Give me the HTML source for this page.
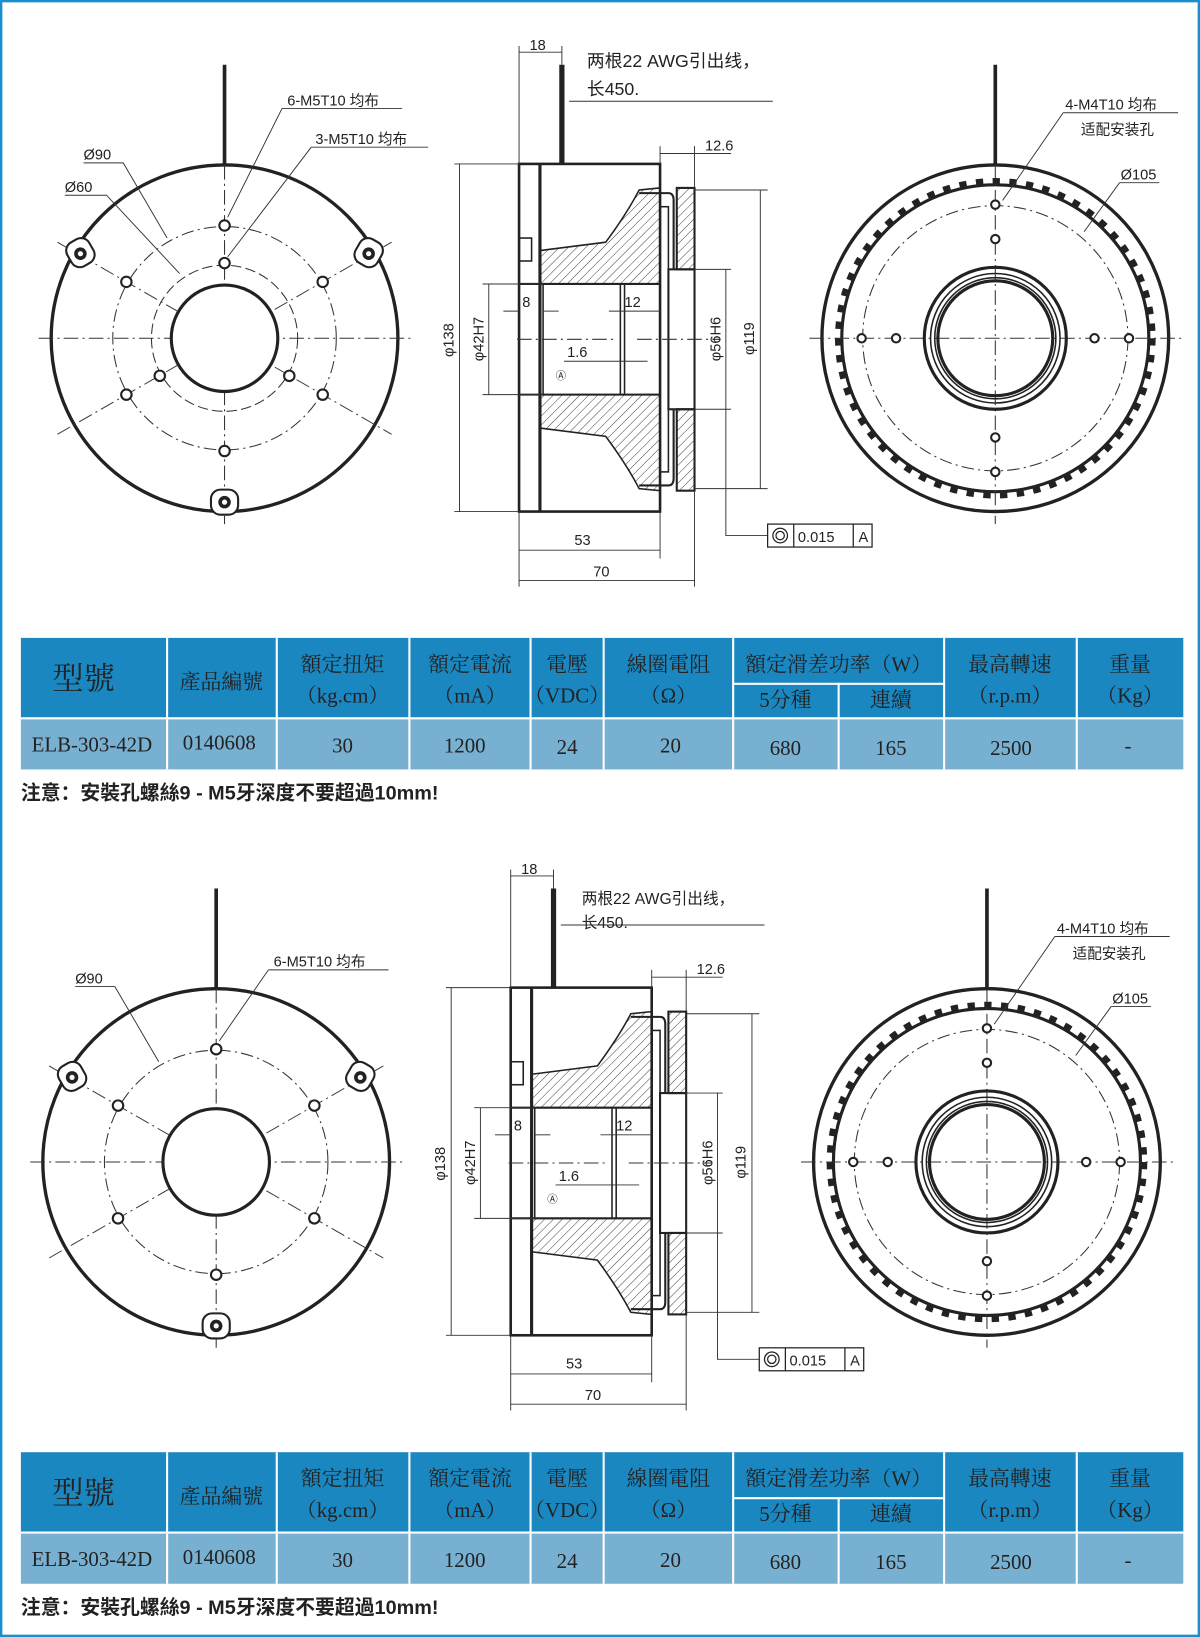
<!DOCTYPE html>
<html><head><meta charset="utf-8"><style>
html,body{margin:0;padding:0;background:#fff}
svg{display:block}
text{font-family:"Liberation Sans","Noto Sans CJK SC",sans-serif;fill:#222}
.s{font-family:"Liberation Serif","Noto Serif CJK SC",serif}
</style></head><body>
<svg width="1200" height="1637" viewBox="0 0 1149 1568" preserveAspectRatio="none" xmlns="http://www.w3.org/2000/svg">
<defs>
<pattern id="h" width="6" height="6" patternUnits="userSpaceOnUse" patternTransform="rotate(45)"><line x1="0" y1="0" x2="0" y2="6" stroke="#333" stroke-width="0.9"/></pattern>
<g id="front">
  <circle cx="0" cy="0" r="166" fill="none" stroke="#222" stroke-width="3.2"/>
  <circle cx="0" cy="0" r="107" fill="none" stroke="#333" stroke-width="1" stroke-dasharray="12,4,2,4"/>
  <line x1="-178" y1="0" x2="178" y2="0" stroke="#333" stroke-width="1" stroke-dasharray="14,4,2,4"/>
  <line x1="0" y1="-166" x2="0" y2="178" stroke="#333" stroke-width="1" stroke-dasharray="14,4,2,4"/>
  <line x1="-160" y1="-92" x2="160" y2="92" stroke="#333" stroke-width="0.9" stroke-dasharray="14,4,2,4"/>
  <line x1="-160" y1="92" x2="160" y2="-92" stroke="#333" stroke-width="0.9" stroke-dasharray="14,4,2,4"/>
  <circle cx="0" cy="0" r="51" fill="#fff" stroke="#222" stroke-width="3"/>
  <g fill="#fff" stroke="#222" stroke-width="2">
   <circle cx="0" cy="-108" r="5"/><circle cx="0" cy="108" r="5"/>
   <circle cx="-94" cy="-54" r="5"/><circle cx="94" cy="-54" r="5"/>
   <circle cx="-94" cy="54" r="5"/><circle cx="94" cy="54" r="5"/>
  </g>
  <g stroke="#222" stroke-width="2" fill="#fff">
   <rect x="-13" y="145" width="26" height="24" rx="9"/>
   <rect x="-150" y="-95" width="24" height="26" rx="9" transform="rotate(-30 -138 -82)"/>
   <rect x="126" y="-95" width="24" height="26" rx="9" transform="rotate(30 138 -82)"/>
  </g>
  <g fill="#222"><circle cx="0" cy="157" r="6"/><circle cx="-138" cy="-81" r="6"/><circle cx="138" cy="-81" r="6"/></g>
  <g fill="#fff"><circle cx="0" cy="157" r="2.5"/><circle cx="-138" cy="-81" r="2.5"/><circle cx="138" cy="-81" r="2.5"/></g>
  <line x1="0" y1="-166" x2="0" y2="-262" stroke="#222" stroke-width="3.5"/>
</g>
<g id="rear">
  <circle cx="0" cy="0" r="166" fill="none" stroke="#222" stroke-width="3.2"/>
  <circle cx="0" cy="0" r="147" fill="none" stroke="#222" stroke-width="3"/>
  <circle cx="0" cy="0" r="127" fill="none" stroke="#333" stroke-width="1" stroke-dasharray="12,4,2,4"/>
  <circle cx="0" cy="0" r="150" fill="none" stroke="#222" stroke-width="7" stroke-dasharray="7,9"/>
  <line x1="-178" y1="0" x2="178" y2="0" stroke="#333" stroke-width="1" stroke-dasharray="14,4,2,4"/>
  <line x1="0" y1="-166" x2="0" y2="178" stroke="#333" stroke-width="1" stroke-dasharray="14,4,2,4"/>
  <circle cx="0" cy="0" r="68" fill="none" stroke="#222" stroke-width="3"/>
  <circle cx="0" cy="0" r="62" fill="none" stroke="#222" stroke-width="1.5"/>
  <circle cx="0" cy="0" r="58" fill="none" stroke="#222" stroke-width="1.5"/>
  <circle cx="0" cy="0" r="55" fill="none" stroke="#222" stroke-width="3"/>
  <g fill="#fff" stroke="#222" stroke-width="2">
   <circle cx="0" cy="-128" r="4"/><circle cx="0" cy="-95" r="4"/>
   <circle cx="0" cy="128" r="4"/><circle cx="0" cy="95" r="4"/>
   <circle cx="-128" cy="0" r="4"/><circle cx="-95" cy="0" r="4"/>
   <circle cx="128" cy="0" r="4"/><circle cx="95" cy="0" r="4"/>
  </g>
  <line x1="0" y1="-166" x2="0" y2="-262" stroke="#222" stroke-width="3.5"/>
</g>
<g id="side">
  <path d="M517,240 L580,232 Q600,205 612,182 L632,180 L632,272 L517,272 Z" fill="url(#h)" stroke="#222" stroke-width="1.5"/>
  <path d="M517,410 L580,418 Q600,445 612,468 L632,470 L632,378 L517,378 Z" fill="url(#h)" stroke="#222" stroke-width="1.5"/>
  <rect x="497" y="157" width="135" height="333" fill="none" stroke="#222" stroke-width="2.5"/>
  <line x1="517" y1="157" x2="517" y2="490" stroke="#222" stroke-width="3"/>
  <line x1="497" y1="272" x2="632" y2="272" stroke="#222" stroke-width="2"/>
  <line x1="497" y1="378" x2="632" y2="378" stroke="#222" stroke-width="2"/>
  <line x1="520" y1="272" x2="520" y2="378" stroke="#222" stroke-width="1.5"/>
  <line x1="594" y1="272" x2="594" y2="378" stroke="#222" stroke-width="1.5"/>
  <line x1="598" y1="272" x2="598" y2="378" stroke="#222" stroke-width="1.5"/>
  <rect x="497" y="228" width="12" height="22" fill="none" stroke="#222" stroke-width="1.5"/>
  <line x1="538" y1="62" x2="538" y2="157" stroke="#222" stroke-width="5"/>
  <path d="M612,185 L640,185 Q645,185 645,192 L645,258" fill="none" stroke="#222" stroke-width="2"/>
  <path d="M612,465 L640,465 Q645,465 645,458 L645,392" fill="none" stroke="#222" stroke-width="2"/>
  <rect x="632" y="198" width="8" height="254" fill="none" stroke="#222" stroke-width="1.5"/>
  <rect x="648" y="180" width="17" height="78" fill="url(#h)" stroke="#222" stroke-width="2"/>
  <rect x="648" y="392" width="17" height="78" fill="url(#h)" stroke="#222" stroke-width="2"/>
  <rect x="640" y="258" width="25" height="134" fill="none" stroke="#222" stroke-width="2"/>
  <line x1="610" y1="325" x2="690" y2="325" stroke="#333" stroke-width="1" stroke-dasharray="14,4,2,4"/>
  <line x1="495" y1="325" x2="590" y2="325" stroke="#333" stroke-width="1" stroke-dasharray="14,4,2,4"/>
  <g stroke="#333" stroke-width="0.9" fill="none">
   <line x1="440" y1="157" x2="440" y2="490"/><line x1="435" y1="157" x2="497" y2="157"/><line x1="435" y1="490" x2="497" y2="490"/>
   <line x1="468" y1="272" x2="468" y2="378"/><line x1="462" y1="272" x2="520" y2="272"/><line x1="462" y1="378" x2="520" y2="378"/>
   <line x1="695" y1="258" x2="695" y2="392"/><line x1="665" y1="258" x2="700" y2="258"/><line x1="665" y1="392" x2="700" y2="392"/>
   <line x1="728" y1="182" x2="728" y2="468"/><line x1="665" y1="182" x2="735" y2="182"/><line x1="665" y1="468" x2="735" y2="468"/>
   <line x1="497" y1="490" x2="497" y2="562"/><line x1="632" y1="490" x2="632" y2="535"/><line x1="665" y1="470" x2="665" y2="562"/>
   <line x1="497" y1="527" x2="632" y2="527"/><line x1="497" y1="556" x2="665" y2="556"/>
   <line x1="497" y1="44" x2="497" y2="157"/><line x1="538" y1="44" x2="538" y2="62"/><line x1="497" y1="50" x2="538" y2="50"/>
   <line x1="632" y1="140" x2="632" y2="157"/><line x1="665" y1="140" x2="665" y2="180"/><line x1="632" y1="147" x2="700" y2="147"/>
   <line x1="545" y1="97" x2="740" y2="97"/>
   <line x1="482" y1="298" x2="497" y2="298"/><line x1="520" y1="298" x2="535" y2="298"/>
   <line x1="583" y1="298" x2="632" y2="298"/>
   <line x1="540" y1="346" x2="620" y2="346"/>
   <path d="M695,392 L695,513 L735,513"/>
  </g>
  <g fill="#222" font-size="14">
   <text x="507" y="48">18</text>
   <text x="675" y="144">12.6</text>
   <text x="550" y="522">53</text>
   <text x="568" y="552">70</text>
   <text x="500" y="294">8</text>
   <text x="598" y="294">12</text>
   <text x="543" y="342">1.6</text>
   <text x="532" y="363" font-size="10">Ⓐ</text>
   <text transform="translate(434,342) rotate(-90)">φ138</text>
   <text transform="translate(463,346) rotate(-90)">φ42H7</text>
   <text transform="translate(690,346) rotate(-90)">φ56H6</text>
   <text transform="translate(722,340) rotate(-90)">φ119</text>
  </g>
  <g stroke="#222" stroke-width="1.2" fill="none">
   <rect x="735" y="502" width="100" height="22"/><line x1="760" y1="502" x2="760" y2="524"/><line x1="817" y1="502" x2="817" y2="524"/>
   <circle cx="747" cy="513" r="7"/><circle cx="747" cy="513" r="4"/>
  </g>
  <text x="764" y="519" font-size="14">0.015</text><text x="822" y="519" font-size="14">A</text>
</g>
</defs>

<rect x="1" y="1" width="1147" height="1566" fill="none" stroke="#1a8fd0" stroke-width="2.5"/>

<!-- TOP -->
<use href="#front" x="215" y="324"/>
<circle cx="215" cy="324" r="70" fill="none" stroke="#333" stroke-width="1" stroke-dasharray="10,4"/>
<g fill="#fff" stroke="#222" stroke-width="2">
 <circle cx="215" cy="252" r="5"/><circle cx="153" cy="360" r="5"/><circle cx="277" cy="360" r="5"/>
</g>
<g stroke="#333" stroke-width="0.9" fill="none">
 <path d="M270,104 L385,104 M270,104 L218,208"/>
 <path d="M298,141 L410,141 M298,141 L218,246"/>
 <path d="M80,156 L118,156 L160,228"/>
 <path d="M62,187 L102,187 L172,262"/>
</g>
<g font-size="14"><text x="275" y="101">6-M5T10 均布</text><text x="302" y="138">3-M5T10 均布</text><text x="80" y="153">Ø90</text><text x="62" y="184">Ø60</text></g>
<use href="#side"/>
<text x="562" y="64" font-size="17">两根22 AWG引出线，</text>
<text x="562" y="91" font-size="17">长450.</text>
<use href="#rear" x="953" y="324"/>
<g stroke="#333" stroke-width="0.9" fill="none">
 <path d="M1018,108 L1128,108 M1018,108 L960,192"/>
 <path d="M1072,175 L1110,175 M1072,175 L1038,222"/>
</g>
<g font-size="14"><text x="1020" y="105">4-M4T10 均布</text><text x="1035" y="129">适配安装孔</text><text x="1073" y="172">Ø105</text></g>

<g id="tbl">
 <rect x="20" y="611" width="1113" height="77" fill="#1b87c0"/>
 <rect x="20" y="688" width="1113" height="49" fill="#78b0d2"/>
 <g stroke="#fff" stroke-width="2">
  <line x1="160" y1="611" x2="160" y2="737"/><line x1="265" y1="611" x2="265" y2="737"/><line x1="392" y1="611" x2="392" y2="737"/>
  <line x1="508" y1="611" x2="508" y2="737"/><line x1="578" y1="611" x2="578" y2="737"/><line x1="702" y1="611" x2="702" y2="737"/>
  <line x1="803" y1="655" x2="803" y2="737"/><line x1="904" y1="611" x2="904" y2="737"/><line x1="1031" y1="611" x2="1031" y2="737"/>
  <line x1="702" y1="655" x2="904" y2="655"/><line x1="20" y1="688" x2="1133" y2="688"/>
 </g>
 <g class="s" font-size="20" text-anchor="middle">
  <text x="80" y="660" font-size="30" class="s">型號</text>
  <text x="212" y="660" class="s">產品編號</text>
  <text x="328" y="643" class="s">額定扭矩</text><text x="328" y="673" class="s">（kg.cm）</text>
  <text x="450" y="643" class="s">額定電流</text><text x="450" y="673" class="s">（mA）</text>
  <text x="543" y="643" class="s">電壓</text><text x="543" y="673" class="s">（VDC）</text>
  <text x="640" y="643" class="s">線圈電阻</text><text x="640" y="673" class="s">（Ω）</text>
  <text x="803" y="643" class="s">額定滑差功率（W）</text>
  <text x="752" y="677" class="s">5分種</text><text x="853" y="677" class="s">連續</text>
  <text x="967" y="643" class="s">最高轉速</text><text x="967" y="673" class="s">（r.p.m）</text>
  <text x="1082" y="643" class="s">重量</text><text x="1082" y="673" class="s">（Kg）</text>
  <text x="88" y="720" class="s">ELB-303-42D</text><text x="210" y="718" class="s">0140608</text>
  <text x="328" y="721" class="s">30</text><text x="445" y="721" class="s">1200</text><text x="543" y="722" class="s">24</text>
  <text x="642" y="721" class="s">20</text><text x="752" y="723" class="s">680</text><text x="853" y="723" class="s">165</text>
  <text x="968" y="723" class="s">2500</text><text x="1080" y="721" class="s">-</text>
 </g>
 <text x="20" y="766" font-size="19" font-weight="bold" fill="#111">注意：安裝孔螺絲9 - M5牙深度不要超過10mm!</text>
</g>

<!-- BOTTOM -->
<g transform="translate(-8,789)">
 <use href="#front" x="215" y="324"/>
 <g stroke="#333" stroke-width="0.9" fill="none">
  <path d="M265,140 L380,140 M265,140 L218,208"/>
  <path d="M80,156 L118,156 L160,228"/>
 </g>
 <g font-size="14"><text x="270" y="137">6-M5T10 均布</text><text x="80" y="153">Ø90</text></g>
 <use href="#side"/>
 <text x="565" y="77" font-size="15">两根22 AWG引出线，</text>
 <text x="565" y="100" font-size="15">长450.</text>
 <use href="#rear" x="953" y="324"/>
 <g stroke="#333" stroke-width="0.9" fill="none">
  <path d="M1018,108 L1128,108 M1018,108 L960,192"/>
  <path d="M1072,175 L1110,175 M1072,175 L1038,222"/>
 </g>
 <g font-size="14"><text x="1020" y="105">4-M4T10 均布</text><text x="1035" y="129">适配安装孔</text><text x="1073" y="172">Ø105</text></g>
</g>
<use href="#tbl" x="0" y="780"/>
</svg>
</body></html>
